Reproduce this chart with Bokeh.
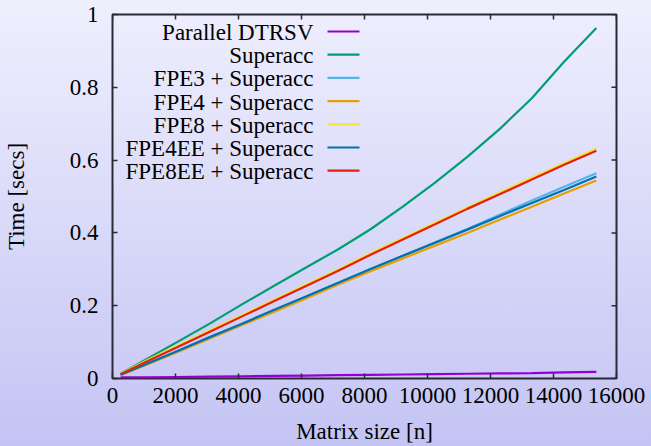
from bokeh.plotting import figure
from bokeh.layouts import column
from bokeh.models import Range1d, FixedTicker, CustomJSTickFormatter, Label
from bokeh.embed import file_html
from bokeh.resources import INLINE

# ---- data ----
n = [256, 1024, 2048, 3072, 4096, 5120, 6144, 7168, 8192,
     9216, 10240, 11264, 12288, 13312, 14336, 15360]

parallel_dtrsv = [0.003, 0.003, 0.004, 0.005, 0.006, 0.007, 0.008, 0.009, 0.010,
                  0.011, 0.012, 0.013, 0.014, 0.015, 0.017, 0.018]
superacc = [0.013, 0.050, 0.100, 0.150, 0.203, 0.254, 0.305, 0.355, 0.410,
            0.472, 0.538, 0.609, 0.685, 0.770, 0.870, 0.963]
fpe3 = [0.010, 0.038, 0.075, 0.113, 0.150, 0.188, 0.225, 0.263, 0.301,
        0.337, 0.374, 0.411, 0.450, 0.489, 0.527, 0.564]
fpe4 = [0.009, 0.036, 0.072, 0.109, 0.146, 0.183, 0.220, 0.258, 0.295,
        0.330, 0.365, 0.400, 0.436, 0.472, 0.508, 0.544]
fpe8 = [0.013, 0.047, 0.090, 0.132, 0.174, 0.216, 0.258, 0.300, 0.344,
        0.386, 0.428, 0.470, 0.511, 0.552, 0.592, 0.632]
fpe4ee = [0.010, 0.038, 0.075, 0.113, 0.150, 0.188, 0.225, 0.263, 0.301,
          0.337, 0.373, 0.409, 0.446, 0.482, 0.518, 0.555]
fpe8ee = [0.012, 0.044, 0.086, 0.128, 0.170, 0.212, 0.254, 0.296, 0.340,
          0.382, 0.424, 0.466, 0.506, 0.547, 0.587, 0.626]

series_names = ["Parallel DTRSV", "Superacc", "FPE3 + Superacc", "FPE4 + Superacc",
                "FPE8 + Superacc", "FPE4EE + Superacc", "FPE8EE + Superacc"]
series_values = [parallel_dtrsv, superacc, fpe3, fpe4, fpe8, fpe4ee, fpe8ee]
series_colors = ["#9400D3", "#009E73", "#56B4E9", "#E69F00", "#F0E442", "#0072B2", "#E51E10"]

x_ticks = [0, 2000, 4000, 6000, 8000, 10000, 12000, 14000, 16000]
y_ticks = [0, 0.2, 0.4, 0.6, 0.8, 1.0]

FONT = "Liberation Serif"
FSIZE = "23px"
W, H = 651, 446
L, R, T, B = 112, 35, 14, 68
XMAX, YMAX = 16000, 1.0

p = figure(width=W, height=H, output_backend="svg", toolbar_location=None,
           x_range=Range1d(0, XMAX), y_range=Range1d(0, YMAX),
           min_border_left=L, min_border_right=R, min_border_top=T, min_border_bottom=B)
p.background_fill_color = None
p.border_fill_color = None
p.grid.visible = False
p.outline_line_color = "#2a2a35"
p.outline_line_width = 2

fmt = CustomJSTickFormatter(code="return tick.toString()")

def style_axis(ax, ticks):
    ax.ticker = FixedTicker(ticks=ticks)
    ax.formatter = fmt
    ax.axis_line_color = None
    ax.major_tick_in = 5
    ax.major_tick_out = 0
    ax.major_tick_line_color = "#2a2a35"
    ax.major_tick_line_width = 1.5
    ax.minor_tick_line_color = None
    ax.major_label_text_font = FONT
    ax.major_label_text_font_size = FSIZE
    ax.major_label_text_color = "black"
    ax.axis_label_text_font = FONT
    ax.axis_label_text_font_size = FSIZE
    ax.axis_label_text_font_style = "normal"
    ax.axis_label_text_color = "black"

style_axis(p.xaxis[0], x_ticks)
style_axis(p.yaxis[0], y_ticks)
p.xaxis[0].axis_label = "Matrix size [n]"
p.yaxis[0].axis_label = "Time [secs]"
p.xaxis[0].major_label_standoff = 9
p.xaxis[0].axis_label_standoff = 13
p.yaxis[0].major_label_standoff = 14
p.yaxis[0].axis_label_standoff = 38

fw, fh = W - L - R, H - T - B
def dx(px):
    return (px - L) / fw * XMAX
def dy(py):
    return (T + fh - py) / fh * YMAX

# mirrored ticks on top and right edges (gnuplot style)
tick_len_x = 5 / fw * XMAX
tick_len_y = 5 / fh * YMAX
p.segment(x0=x_ticks, y0=[YMAX] * len(x_ticks), x1=x_ticks,
          y1=[YMAX - tick_len_y] * len(x_ticks), line_color="#2a2a35", line_width=1.5)
p.segment(x0=[XMAX] * len(y_ticks), y0=y_ticks, x1=[XMAX - tick_len_x] * len(y_ticks),
          y1=y_ticks, line_color="#2a2a35", line_width=1.5)

for vals, col in zip(series_values, series_colors):
    p.line(n, vals, line_color=col, line_width=2.2)

# ---- manual legend (text to the left of the sample, right-aligned) ----
for i, (name, col) in enumerate(zip(series_names, series_colors)):
    ry = 31 + i * 23.2
    p.add_layout(Label(x=dx(313), y=dy(ry + 1), text=name, text_align="right",
                       text_baseline="middle", text_font=FONT, text_font_size=FSIZE,
                       text_color="black"))
    p.segment(x0=[dx(327)], y0=[dy(ry)], x1=[dx(359)], y1=[dy(ry)],
              line_color=col, line_width=2.2)

page = column(p, width=W, height=H,
              styles={"background-image": "linear-gradient(to bottom, #efeffe, #c4c4f4)"})

open("out.html", "w").write(file_html(page, INLINE))
